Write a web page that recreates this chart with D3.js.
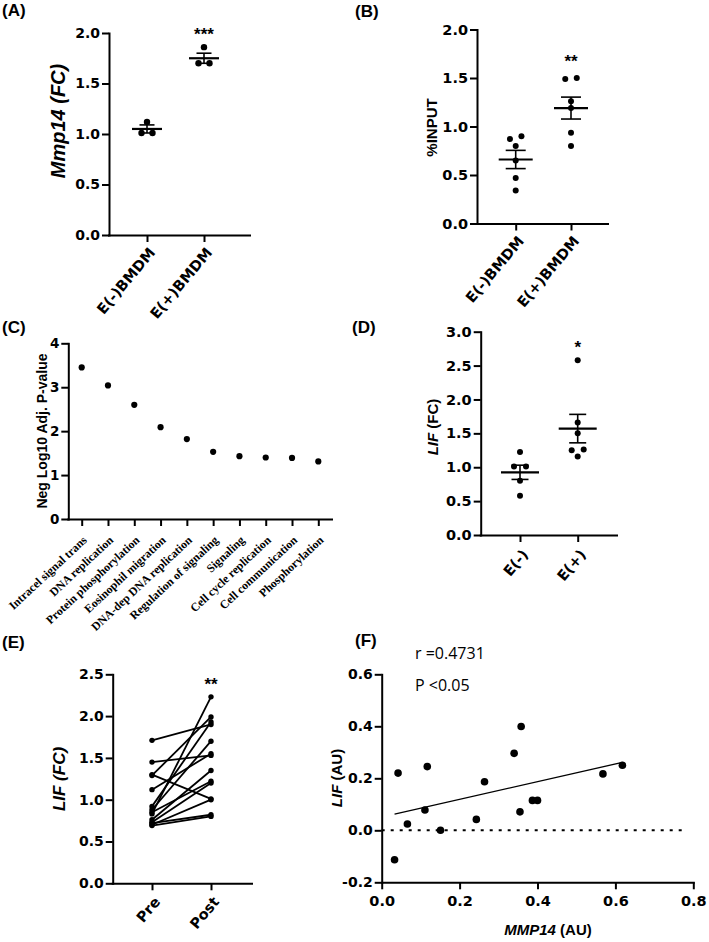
<!DOCTYPE html>
<html><head><meta charset="utf-8">
<script src="https://cdn.jsdelivr.net/npm/d3@7"></script>
<style>
body{margin:0;background:#fff;}
svg{display:block;}
</style></head><body>
<svg id="fig" width="709" height="942"></svg>
<script>
// ================= DATA =================
// (A) Mmp14 fold change
const groupsA = ["E(-)BMDM", "E(+)BMDM"];
const pointsA = [[1.12, 1.01, 1.01], [1.86, 1.70, 1.70]];
const meanA = [1.05, 1.75];
const semA = [0.04, 0.05];
const ticksA = [0, 0.5, 1.0, 1.5, 2.0];
const starsA = "***";

// (B) %INPUT
const groupsB = ["E(-)BMDM", "E(+)BMDM"];
const pointsB = [[0.90, 0.87, 0.80, 0.65, 0.47, 0.34], [1.50, 1.49, 1.26, 1.19, 0.935, 0.80]];
const meanB = [0.66, 1.19];
const semB = [0.094, 0.113];
const ticksB = [0, 0.5, 1.0, 1.5, 2.0];
const starsB = "**";

// (C) GO terms
const termsC = ["Intracel signal trans", "DNA replication", "Protein phosphorylation", "Eosinophil migration",
  "DNA-dep DNA replication", "Regulation of signaling", "Signaling", "Cell cycle replication",
  "Cell communication", "Phosphorylation"];
const valuesC = [3.45, 3.04, 2.60, 2.09, 1.82, 1.53, 1.43, 1.40, 1.39, 1.31];
const ticksC = [0, 1, 2, 3, 4];

// (D) LIF fold change
const groupsD = ["E(-)", "E(+)"];
const pointsD = [[1.225, 1.01, 1.01, 0.80, 0.58], [2.58, 1.66, 1.50, 1.26, 1.25, 1.16]];
const meanD = [0.925, 1.57];
const semD = [0.105, 0.21];
const ticksD = [0, 0.5, 1.0, 1.5, 2.0, 2.5, 3.0];
const starsD = "*";

// (E) paired Pre/Post LIF
const groupsE = ["Pre", "Post"];
const preE  = [1.71, 1.45, 1.30, 1.29, 1.12, 0.92, 0.88, 0.85, 0.83, 0.76, 0.73, 0.72, 0.70, 0.69];
const postE = [1.90, 1.53, 1.01, 1.99, 1.55, 1.93, 1.70, 1.22, 2.23, 1.35, 1.20, 0.82, 1.00, 0.80];
const ticksE = [0, 0.5, 1.0, 1.5, 2.0, 2.5];
const starsE = "**";

// (F) correlation
const mmp14F = [0.033, 0.042, 0.066, 0.111, 0.117, 0.151, 0.243, 0.264, 0.340, 0.358, 0.355, 0.387, 0.400, 0.568, 0.618];
const lifF   = [-0.113, 0.220, 0.024, 0.078, 0.245, 0.000, 0.042, 0.187, 0.296, 0.399, 0.071, 0.115, 0.115, 0.217, 0.250];
const ticksFx = [0, 0.2, 0.4, 0.6, 0.8];
const ticksFy = [-0.2, 0, 0.2, 0.4, 0.6];
const statsF = ["r =0.4731", "P <0.05"];

// ================= DRAWING =================
const svg = d3.select("#fig");
const TICK_FONT = "'DejaVu Sans', sans-serif";
const SANS = "'Liberation Sans', Arial, sans-serif";
const SERIF = "'Liberation Serif', 'Times New Roman', serif";
const f1 = v => d3.format(".1f")(v).replace("\u2212", "-");

function panelLabel(txt, x, y) {
  svg.append("text").attr("x", x).attr("y", y)
    .attr("font-family", SANS).attr("font-weight", "bold").attr("font-size", 17).text(txt);
}
function styleAxis(g, fs) {
  g.selectAll(".domain").attr("stroke", "#000").attr("stroke-width", 2).attr("stroke-linecap", "square");
  g.selectAll(".tick line").attr("stroke", "#000").attr("stroke-width", 2);
  g.selectAll(".tick text").attr("fill", "#000").attr("font-family", TICK_FONT)
    .attr("font-weight", "bold").attr("font-size", fs);
}
function yAxis(y, x0, ticks, fmt, fs) {
  const g = svg.append("g").attr("transform", `translate(${x0},0)`)
    .call(d3.axisLeft(y).tickValues(ticks).tickFormat(fmt).tickSize(7).tickSizeOuter(0).tickPadding(2));
  styleAxis(g, fs);
  return g;
}
function catAxis(x, y0, x0, x1, opt) {
  const g = svg.append("g").attr("transform", `translate(0,${y0})`)
    .call(d3.axisBottom(x).tickSize(7).tickSizeOuter(0).tickFormat(""));
  g.select(".domain").attr("d", `M${x0},0.5H${x1}`);
  styleAxis(g, 12);
  g.selectAll("text.lbl").data(x.domain()).join("text").attr("class", "lbl")
    .attr("transform", d => `translate(${x(d) + opt.dx},${opt.dy}) rotate(${opt.rot})`)
    .attr("text-anchor", "end")
    .attr("font-family", opt.font).attr("font-weight", "bold").attr("font-size", opt.fs)
    .attr("fill", "#000").text(d => d);
  return g;
}
function yTitle(cx, cy, parts, fs) {
  const t = svg.append("text").attr("transform", `translate(${cx},${cy}) rotate(-90)`)
    .attr("text-anchor", "middle").attr("dy", "0.35em")
    .attr("font-family", SANS).attr("font-weight", "bold").attr("font-size", fs);
  parts.forEach(p => t.append("tspan").attr("font-style", p[1] ? "italic" : "normal").text(p[0]));
}
// symmetric horizontal spreading of overlapping dots (layout only)
function spreadOffsets(vals, y, r, s) {
  const idx = vals.map((v, i) => i).sort((a, b) => vals[a] - vals[b]);
  const off = new Array(vals.length).fill(0);
  let cl = [idx[0]];
  const flush = () => { const n = cl.length; cl.forEach((k, j) => off[k] = (j - (n - 1) / 2) * s); };
  for (let i = 1; i < idx.length; i++) {
    if (Math.abs(y(vals[idx[i]]) - y(vals[idx[i - 1]])) < 2 * r) cl.push(idx[i]);
    else { flush(); cl = [idx[i]]; }
  }
  flush();
  return off;
}
function dotPanel(c) {
  const y = d3.scaleLinear().domain([0, c.max]).range([c.y0, c.yTop]);
  const x = d3.scalePoint().domain(c.groups).range([c.c0, c.c1]);
  yAxis(y, c.x0, c.ticks, f1, c.tickFs);
  catAxis(x, c.y0, c.x0, c.x1, { dx: c.ldx, dy: c.ldy, rot: -50, font: TICK_FONT, fs: c.catFs });
  c.groups.forEach((gname, gi) => {
    const vals = c.points[gi];
    const off = spreadOffsets(vals, y, c.r, c.sp);
    const cx = x(gname);
    svg.append("g").selectAll("circle").data(vals).join("circle")
      .attr("cx", (d, i) => cx + off[i]).attr("cy", d => y(d)).attr("r", c.r).attr("fill", "#000");
    const m = c.mean[gi], s = c.sem[gi];
    const eg = svg.append("g").attr("stroke", "#000");
    eg.append("line").attr("x1", cx - c.mw / 2).attr("x2", cx + c.mw / 2)
      .attr("y1", y(m)).attr("y2", y(m)).attr("stroke-width", 2.2);
    eg.append("line").attr("x1", cx).attr("x2", cx).attr("y1", y(m - s)).attr("y2", y(m + s)).attr("stroke-width", 1.6);
    [m - s, m + s].forEach(v => eg.append("line").attr("x1", cx - c.cw / 2).attr("x2", cx + c.cw / 2)
      .attr("y1", y(v)).attr("y2", y(v)).attr("stroke-width", 1.6));
  });
  svg.append("text").attr("x", x(c.groups[1])).attr("y", c.starY).attr("text-anchor", "middle")
    .attr("font-family", SANS).attr("font-weight", "bold").attr("font-size", 17).text(c.stars);
  return { x, y };
}

// ---- Panel A ----
panelLabel("(A)", 2, 16);
dotPanel({ groups: groupsA, points: pointsA, mean: meanA, sem: semA, ticks: ticksA, max: 2,
  x0: 109, x1: 250, y0: 235, yTop: 33, c0: 147, c1: 204, r: 3.2, sp: 11, mw: 30, cw: 15,
  tickFs: 14, catFs: 14.5, ldx: 9, ldy: 18, stars: starsA, starY: 40 });
yTitle(58, 121, [["Mmp14 (FC)", true]], 20);

// ---- Panel B ----
panelLabel("(B)", 355, 17);
dotPanel({ groups: groupsB, points: pointsB, mean: meanB, sem: semB, ticks: ticksB, max: 2,
  x0: 477, x1: 608, y0: 223.5, yTop: 29.5, c0: 515.7, c1: 571, r: 3, sp: 11.5, mw: 34, cw: 20,
  tickFs: 14.5, catFs: 14.5, ldx: 9, ldy: 18, stars: starsB, starY: 67 });
yTitle(432, 127.5, [["%INPUT", false]], 15);

// ---- Panel C ----
panelLabel("(C)", 2, 333);
{
  const y = d3.scaleLinear().domain([0, 4]).range([519, 343.3]);
  const x = d3.scalePoint().domain(termsC).range([81.7, 318.3]);
  yAxis(y, 68.3, ticksC, d3.format("d"), 13.5);
  catAxis(x, 519, 68.3, 332, { dx: 6, dy: 22, rot: -43, font: SERIF, fs: 11.8 });
  svg.append("g").selectAll("circle").data(valuesC).join("circle")
    .attr("cx", (d, i) => x(termsC[i])).attr("cy", d => y(d)).attr("r", 3.1).attr("fill", "#000");
  yTitle(42.5, 431, [["Neg Log10 Adj. P-value", false]], 14);
}

// ---- Panel D ----
panelLabel("(D)", 352, 333);
dotPanel({ groups: groupsD, points: pointsD, mean: meanD, sem: semD, ticks: ticksD, max: 3,
  x0: 480.7, x1: 617, y0: 535, yTop: 331.7, c0: 520, c1: 577.7, r: 3, sp: 12, mw: 38, cw: 17,
  tickFs: 14.5, catFs: 14.5, ldx: 9, ldy: 20, stars: starsD, starY: 353 });
yTitle(432.5, 427, [["LIF", true], [" (FC)", false]], 15);

// ---- Panel E ----
panelLabel("(E)", 2, 648);
{
  const y = d3.scaleLinear().domain([0, 2.5]).range([883.3, 674.3]);
  const x = d3.scalePoint().domain(groupsE).range([152, 211]);
  yAxis(y, 112.7, ticksE, f1, 14);
  catAxis(x, 883.3, 112.7, 252, { dx: 9, dy: 19, rot: -50, font: TICK_FONT, fs: 14.5 });
  const pairs = preE.map((p, i) => [p, postE[i]]);
  const line = d3.line().x((d, i) => x(groupsE[i])).y(d => y(d));
  svg.append("g").selectAll("path").data(pairs).join("path")
    .attr("d", line).attr("fill", "none").attr("stroke", "#000").attr("stroke-width", 1.8);
  svg.append("g").selectAll("circle").data(preE).join("circle")
    .attr("cx", x("Pre")).attr("cy", d => y(d)).attr("r", 2.7).attr("fill", "#000");
  svg.append("g").selectAll("circle").data(postE).join("circle")
    .attr("cx", x("Post")).attr("cy", d => y(d)).attr("r", 2.7).attr("fill", "#000");
  svg.append("text").attr("x", x("Post")).attr("y", 690).attr("text-anchor", "middle")
    .attr("font-family", SANS).attr("font-weight", "bold").attr("font-size", 17).text(starsE);
  yTitle(59, 779, [["LIF (FC)", true]], 17);
}

// ---- Panel F ----
panelLabel("(F)", 355, 646);
{
  const x = d3.scaleLinear().domain([0, 0.8]).range([381.7, 693.3]);
  const y = d3.scaleLinear().domain([-0.2, 0.6]).range([882.3, 674.3]);
  yAxis(y, 381.7, ticksFy, f1, 14);
  const gx = svg.append("g").attr("transform", `translate(0,${882.3})`)
    .call(d3.axisBottom(x).tickValues(ticksFx).tickFormat(f1).tickSize(7).tickSizeOuter(0).tickPadding(6));
  styleAxis(gx, 14.5);
  // zero reference line
  svg.append("line").attr("x1", x(0)).attr("x2", x(0.785)).attr("y1", y(0)).attr("y2", y(0))
    .attr("stroke", "#000").attr("stroke-width", 2).attr("stroke-dasharray", "3,6");
  // least-squares fit
  const mx = d3.mean(mmp14F), my = d3.mean(lifF);
  const sxy = d3.sum(mmp14F, (v, i) => (v - mx) * (lifF[i] - my));
  const sxx = d3.sum(mmp14F, v => (v - mx) * (v - mx));
  const slope = sxy / sxx, icpt = my - slope * mx;
  const [xmin, xmax] = d3.extent(mmp14F);
  svg.append("line").attr("x1", x(xmin)).attr("x2", x(xmax))
    .attr("y1", y(icpt + slope * xmin)).attr("y2", y(icpt + slope * xmax))
    .attr("stroke", "#000").attr("stroke-width", 1.3);
  svg.append("g").selectAll("circle").data(mmp14F).join("circle")
    .attr("cx", d => x(d)).attr("cy", (d, i) => y(lifF[i])).attr("r", 3.8).attr("fill", "#000");
  statsF.forEach((s, i) => svg.append("text").attr("x", 415).attr("y", 659 + i * 32)
    .attr("font-family", "'Open Sans', sans-serif").attr("font-size", 16).attr("fill", "#000").text(s));
  const xt = svg.append("text").attr("x", 548).attr("y", 935).attr("text-anchor", "middle")
    .attr("font-family", SANS).attr("font-weight", "bold").attr("font-size", 15);
  xt.append("tspan").attr("font-style", "italic").text("MMP14");
  xt.append("tspan").text(" (AU)");
  yTitle(337, 778, [["LIF", true], [" (AU)", false]], 15);
}
</script>
</body></html>
